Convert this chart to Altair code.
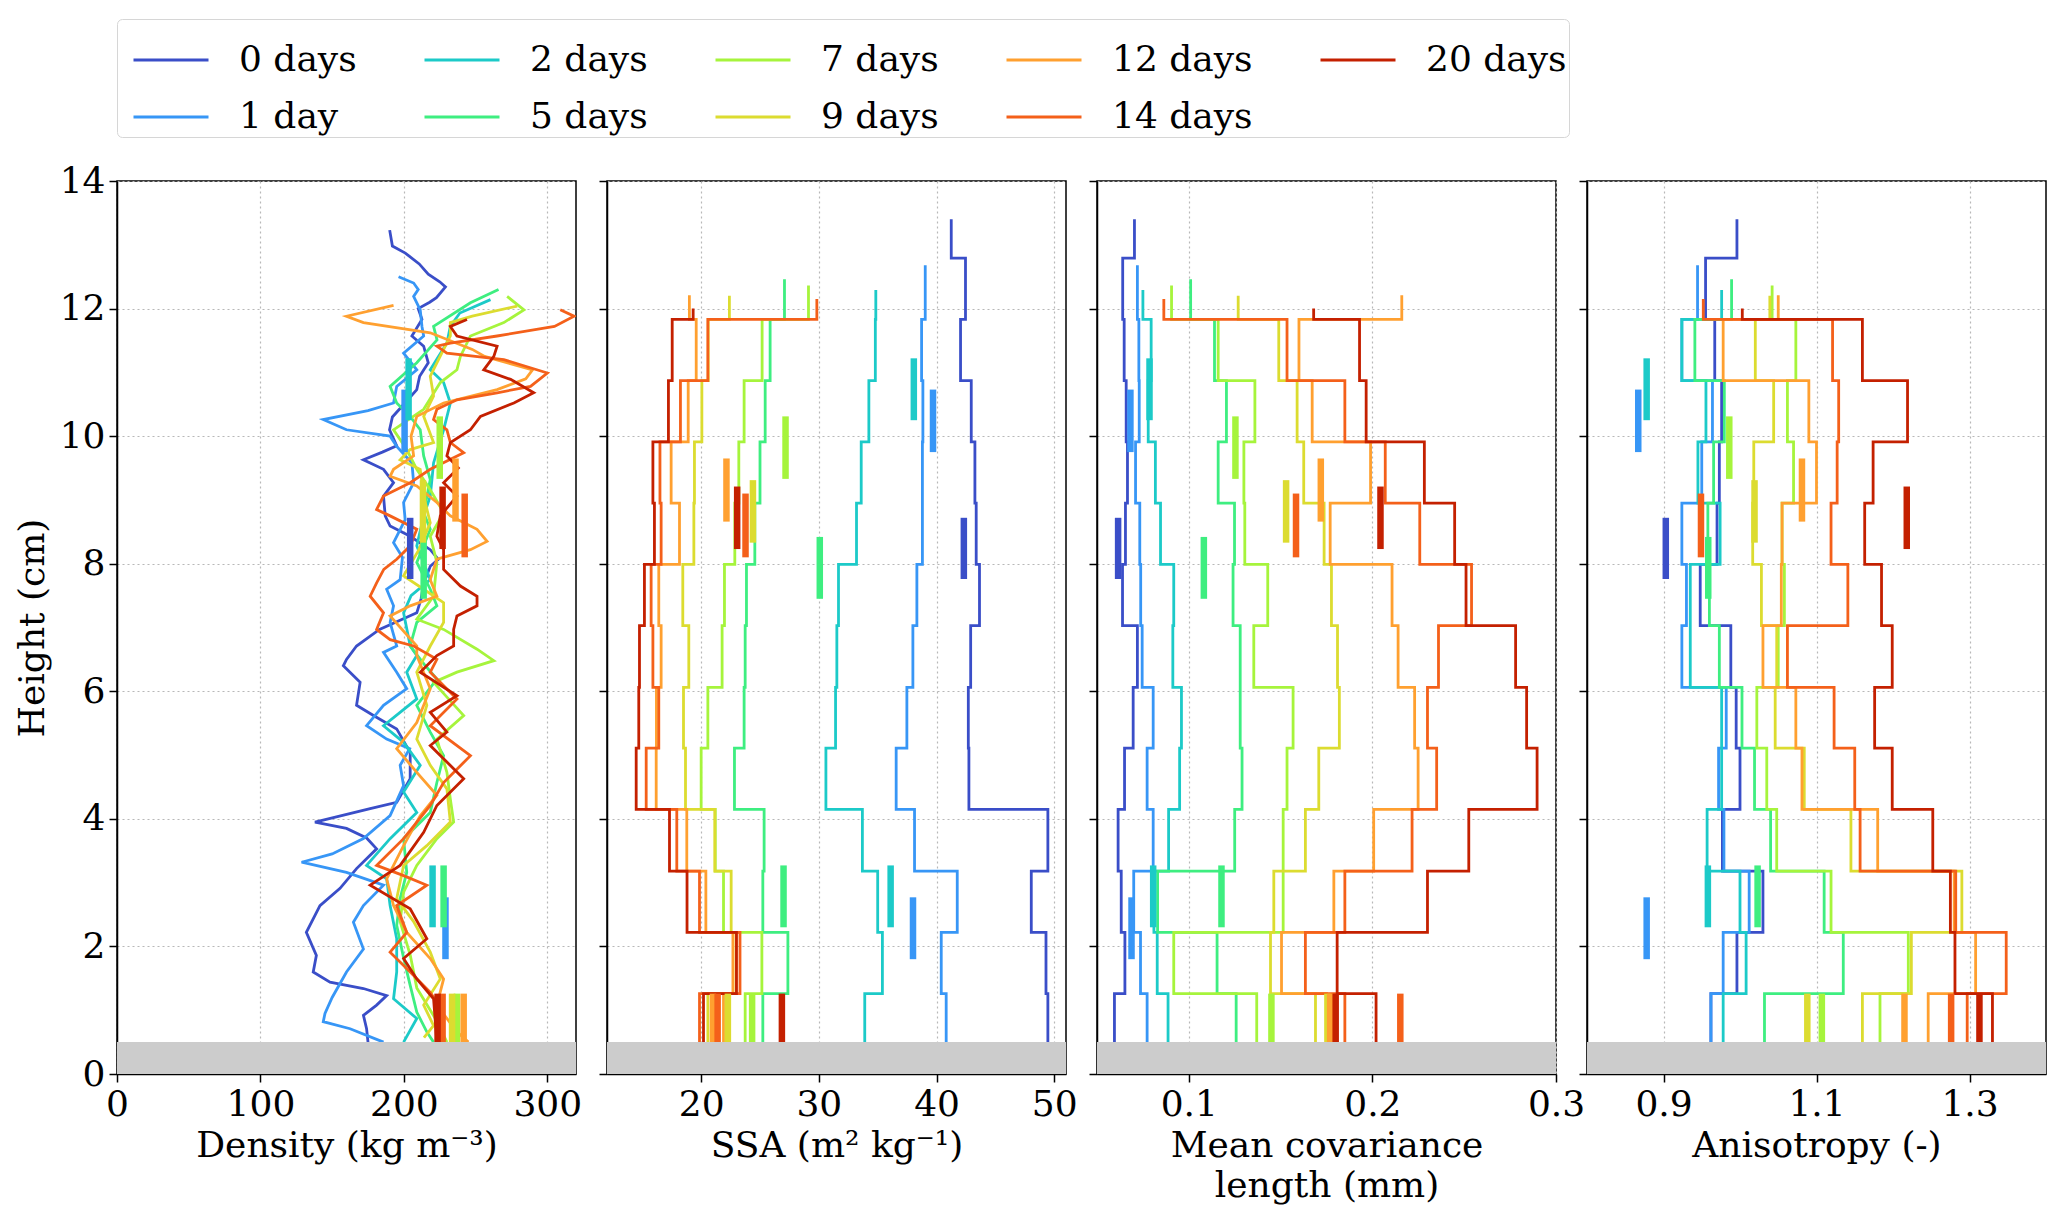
import altair as alt
import pandas as pd

DAYS = ["0 days", "1 day", "2 days", "5 days", "7 days", "9 days", "12 days", "14 days", "20 days"]
DAY_COLORS = ["#3a4ec8", "#3796f6", "#1ccac8", "#3eee80", "#a6f43c", "#dcdc30", "#ffa030", "#f4601a", "#c42000"]
# legend is filled row by row, so this order gives the two-row column layout
LEGEND_ORDER = ["0 days", "2 days", "7 days", "12 days", "20 days", "1 day", "5 days", "9 days", "14 days"]

# layer bottoms (cm); the last layer of each profile ends at the snow top
LAYER_EDGES = [0.5, 1.26, 2.22, 3.18, 4.15, 5.11, 6.06, 7.03, 7.99, 8.95, 9.91, 10.87, 11.83, 12.79]
SNOW_TOP = {
    "0 days": 13.40, "1 day": 12.68, "2 days": 12.29, "5 days": 12.46, "7 days": 12.36,
    "9 days": 12.20, "12 days": 12.21, "14 days": 12.15, "20 days": 12.00,
}

# layer values, bottom to top
SSA = {
    "0 days": [49.46, 49.3, 48.05, 49.46, 42.75, 42.7, 42.9, 43.65, 43.37, 43.26, 42.95, 42.04, 42.46, 41.25],
    "1 day": [40.82, 40.4, 41.76, 38.13, 36.57, 37.48, 37.99, 38.33, 38.8, 38.8, 38.84, 38.73, 39.04],
    "2 days": [33.9, 35.4, 35.0, 33.7, 30.6, 31.42, 31.53, 31.67, 33.2, 33.6, 34.25, 34.8, 34.84],
    "5 days": [25.24, 27.37, 25.24, 25.35, 22.83, 23.65, 23.74, 23.85, 24.56, 25.0, 25.44, 25.86, 27.08],
    "7 days": [23.74, 25.16, 21.9, 21.2, 20.0, 20.57, 21.78, 21.98, 22.86, 23.2, 23.65, 25.18, 29.12],
    "9 days": [20.57, 22.97, 22.55, 21.16, 18.67, 18.5, 18.95, 18.44, 19.38, 19.43, 20.06, 20.6, 22.4],
    "12 days": [21.9, 22.7, 20.4, 18.78, 16.18, 16.2, 16.6, 16.4, 18.16, 17.45, 18.9, 19.58, 19.0],
    "14 days": [19.86, 23.3, 19.86, 17.93, 15.33, 16.4, 15.9, 15.75, 16.6, 16.5, 18.24, 20.57, 29.83],
    "20 days": [20.2, 23.0, 18.8, 17.31, 14.48, 14.7, 14.76, 15.18, 16.03, 15.9, 17.22, 17.54, 19.32],
}

COV_LENGTH = {
    "0 days": [0.0595, 0.0652, 0.0632, 0.0615, 0.065, 0.0697, 0.072, 0.0639, 0.0655, 0.0666, 0.0659, 0.0648, 0.064, 0.0704],
    "1 day": [0.0773, 0.0737, 0.070, 0.0806, 0.0773, 0.0806, 0.0746, 0.0738, 0.0733, 0.071, 0.073, 0.0728, 0.072],
    "2 days": [0.0887, 0.0828, 0.081, 0.089, 0.095, 0.096, 0.0913, 0.0918, 0.0846, 0.0818, 0.0779, 0.0795, 0.075],
    "5 days": [0.1258, 0.1154, 0.083, 0.125, 0.129, 0.128, 0.128, 0.1241, 0.1249, 0.116, 0.1205, 0.114, 0.101],
    "7 days": [0.137, 0.0918, 0.1514, 0.1514, 0.1535, 0.1568, 0.1354, 0.143, 0.1305, 0.130, 0.136, 0.116, 0.0906],
    "9 days": [0.169, 0.1445, 0.1463, 0.1635, 0.1708, 0.182, 0.181, 0.1777, 0.1737, 0.1626, 0.159, 0.149, 0.1269],
    "12 days": [0.175, 0.1505, 0.179, 0.2007, 0.2249, 0.223, 0.214, 0.2107, 0.177, 0.199, 0.1672, 0.16, 0.216],
    "14 days": [0.185, 0.1635, 0.185, 0.2216, 0.235, 0.230, 0.236, 0.254, 0.2258, 0.207, 0.185, 0.1535, 0.0864],
    "20 days": [0.202, 0.1808, 0.230, 0.2525, 0.2897, 0.284, 0.278, 0.251, 0.2448, 0.2283, 0.1966, 0.193, 0.168],
}

ANISOTROPY = {
    "0 days": [0.962, 0.996, 1.03, 0.977, 1.0, 0.995, 0.988, 0.948, 0.97, 0.973, 0.976, 0.967, 0.955, 0.996],
    "1 day": [0.962, 0.978, 1.012, 0.979, 0.972, 0.982, 0.924, 0.93, 0.924, 0.95, 0.964, 0.924, 0.9445],
    "2 days": [0.978, 1.008, 1.0, 0.957, 0.976, 0.976, 0.935, 0.935, 0.974, 0.945, 0.9555, 0.924, 0.976],
    "5 days": [1.032, 1.135, 1.11, 1.04, 1.019, 1.0026, 0.973, 0.96, 0.958, 0.9655, 0.9795, 0.941, 0.989],
    "7 days": [1.183, 1.22, 1.119, 1.048, 1.035, 1.022, 1.05, 1.058, 1.055, 1.07, 1.062, 1.073, 1.042],
    "9 days": [1.16, 1.224, 1.29, 1.145, 1.084, 1.046, 1.048, 1.028, 1.0166, 1.018, 1.044, 1.02, 1.039],
    "12 days": [1.246, 1.308, 1.28, 1.18, 1.081, 1.073, 1.03, 1.054, 1.055, 1.1, 1.09, 0.978, 1.05],
    "14 days": [1.297, 1.348, 1.282, 1.157, 1.15, 1.123, 1.062, 1.141, 1.119, 1.127, 1.129, 1.121, 0.952],
    "20 days": [1.33, 1.281, 1.275, 1.252, 1.199, 1.176, 1.199, 1.185, 1.163, 1.174, 1.219, 1.16, 1.003],
}

# density profiles: heights (cm) and densities (kg m-3), top to bottom
DENSITY_HEIGHT = {
    "0 days": [13.23, 12.98, 12.87, 12.7, 12.54, 12.42, 12.34, 12.17, 12.1, 12.0, 11.83, 11.57, 11.41, 11.15, 10.94,
               10.73, 10.5, 10.3, 10.1, 9.85, 9.75, 9.63, 9.48, 9.27, 9.06, 8.75, 8.59, 8.43, 8.22, 8.07, 7.96, 7.7,
               7.45, 7.23, 6.97, 6.71, 6.5, 6.4, 6.14, 5.78, 5.62, 5.41, 5.04, 4.63, 4.26, 4.16, 3.95, 3.85, 3.7, 3.53,
               3.22, 2.91, 2.64, 2.22, 1.86, 1.6, 1.44, 1.34, 1.23, 1.08, 0.92, 0.71, 0.5],
    "1 day": [12.5, 12.4, 12.3, 12.19, 11.98, 11.72, 11.57, 11.3, 11.04, 10.78, 10.52, 10.4, 10.26, 10.1, 10.0, 9.84,
              9.58, 9.27, 8.96, 8.69, 8.33, 8.1, 7.75, 7.6, 7.34, 7.08, 6.71, 6.61, 6.3, 6.04, 5.78, 5.46, 5.25, 5.1,
              4.84, 4.52, 4.05, 3.69, 3.45, 3.32, 3.16, 2.96, 2.64, 2.38, 1.96, 1.6, 1.2, 0.95, 0.82, 0.71, 0.5],
    "2 days": [12.14, 11.93, 11.72, 11.46, 11.04, 10.84, 10.52, 10.1, 9.58, 9.06, 8.75, 8.28, 7.75, 7.5, 7.23, 6.71,
               6.56, 6.3, 5.88, 5.46, 5.2, 4.84, 4.42, 4.1, 3.69, 3.27, 3.06, 2.64, 2.12, 1.6, 1.18, 0.87, 0.5],
    "5 days": [12.3, 12.09, 11.72, 11.51, 11.15, 10.78, 10.52, 10.31, 10.1, 9.69, 9.32, 8.8, 8.54, 8.02, 7.6, 7.34,
               7.08, 6.71, 6.4, 6.19, 5.78, 5.36, 4.99, 4.57, 4.1, 3.69, 3.16, 2.75, 2.33, 1.82, 1.39, 0.97, 0.66, 0.5],
    "7 days": [12.19, 11.98, 11.78, 11.57, 11.25, 11.04, 10.84, 10.42, 10.1, 9.79, 9.48, 9.16, 8.8, 8.43, 8.02, 7.49,
               7.13, 6.97, 6.66, 6.48, 6.3, 6.14, 5.62, 5.25, 4.73, 4.31, 3.95, 3.69, 3.27, 2.85, 2.39, 1.87, 1.35,
               0.83, 0.5],
    "9 days": [12.04, 11.88, 11.78, 11.57, 10.94, 10.63, 10.31, 9.9, 9.79, 9.63, 9.48, 9.06, 8.64, 8.2, 7.81, 7.6,
               7.39, 7.08, 6.71, 6.3, 5.78, 5.25, 4.84, 4.47, 3.95, 3.58, 3.27, 2.75, 2.39, 1.91, 1.49, 1.08, 0.76,
               0.57],
    "12 days": [12.05, 11.88, 11.78, 11.62, 11.36, 11.25, 11.04, 10.9, 10.73, 10.52, 10.31, 10.0, 9.69, 9.48, 9.37,
                9.22, 8.96, 8.75, 8.54, 8.35, 8.22, 8.07, 7.75, 7.49, 7.34, 7.18, 6.71, 6.56, 6.04, 5.51, 5.1, 4.73,
                4.37, 4.05, 3.58, 3.06, 2.64, 2.22, 1.81, 1.49, 1.08, 0.66, 0.5],
    "14 days": [11.98, 11.88, 11.72, 11.57, 11.46, 11.41, 11.3, 11.2, 10.99, 10.78, 10.68, 10.57, 10.42, 10.26, 10.1,
                9.9, 9.74, 9.48, 9.27, 9.06, 8.85, 8.75, 8.54, 8.28, 8.07, 7.91, 7.7, 7.49, 7.23, 6.97, 6.81, 6.71,
                6.5, 6.3, 5.88, 5.46, 4.99, 4.57, 4.21, 3.69, 3.27, 3.11, 2.96, 2.64, 2.22, 1.91, 1.6, 1.28, 0.97,
                0.5],
    "20 days": [11.83, 11.72, 11.57, 11.41, 11.25, 11.04, 10.89, 10.68, 10.52, 10.31, 10.1, 9.9, 9.69, 9.5, 9.27,
                9.06, 8.75, 8.43, 8.22, 7.91, 7.65, 7.49, 7.34, 7.18, 6.97, 6.71, 6.56, 6.3, 5.93, 5.67, 5.36, 5.15,
                4.63, 4.21, 3.79, 3.27, 2.96, 2.59, 2.12, 1.81, 1.49, 1.18, 0.5],
}
DENSITY = {
    "0 days": [190.1, 192, 201, 210.7, 217, 225, 229, 222.7, 218, 210, 212.6, 205.6, 213.8, 217, 211, 209, 200, 192,
               190, 195, 185, 171.8, 185.8, 192.8, 185.8, 187, 190.4, 204.4, 218.4, 224, 218.4, 214, 212, 209, 183,
               167, 160, 157.8, 169.5, 167, 178.8, 195, 204.4, 204.4, 195, 176.5, 138, 160, 174, 181, 167, 155.5,
               141.5, 132, 139, 136.8, 148.5, 171.8, 188, 181, 171.8, 174, 175],
    "1 day": [196.3, 206.8, 210, 206.8, 211.4, 212.6, 213.8, 199.8, 209, 195, 192.8, 175, 143.8, 160, 190.4, 195,
              205.6, 206.8, 199.8, 200.9, 192.8, 199, 197.4, 188, 192.8, 190.4, 195, 185.8, 195, 202, 185.8, 174, 188,
              204, 197.4, 199.8, 190.4, 171.8, 150, 128.7, 160, 185.8, 171.8, 164.8, 171.8, 160, 150, 145, 143.8,
              162.5, 185.8],
    "2 days": [260.4, 239, 232.4, 230, 218.4, 227.7, 232.4, 227.7, 220.7, 218.4, 213.8, 209, 218.4, 205, 199.8, 204.4,
               209, 202, 209, 185.8, 199.8, 211.4, 199.8, 209, 190.4, 174, 188, 190.4, 195, 195, 192.8, 209, 199.8],
    "5 days": [266, 246.4, 220.7, 223.1, 209, 190.4, 195, 204.4, 211.4, 213.8, 218.4, 213.8, 218.4, 209, 218.4, 223,
               209, 204.4, 215, 223, 209, 218.4, 227.7, 223, 218.4, 199.8, 202, 197.4, 195, 199.8, 204.4, 209, 216,
               220.7],
    "7 days": [272, 283.7, 269.7, 246.4, 239.4, 237, 225.4, 213.8, 192.8, 202, 209, 218.4, 227.7, 218.4, 223, 220.7,
               209, 227.7, 251, 262.7, 237, 220.7, 241.7, 223, 230, 232.4, 234.7, 223, 209, 199.8, 197.4, 204.4, 209,
               223, 230],
    "9 days": [279, 247.7, 232.4, 232.4, 218.4, 220.7, 213.8, 220.7, 204.4, 197.4, 211.4, 213.8, 218.4, 210, 199.8,
               213.8, 227.7, 227.7, 218.4, 209, 216, 209, 218.4, 230, 232.4, 216, 199.8, 195, 206.8, 218.4, 225.4,
               213.8, 220.7, 214],
    "12 days": [192.8, 160, 171.8, 218.4, 247.7, 256.3, 289.7, 285, 265, 227.7, 209, 205, 206.8, 192.8, 190.4, 209,
                223, 232.4, 251, 258, 246.4, 223, 218.4, 223, 204.4, 190.4, 209, 209, 218.4, 209, 195, 209, 223,
                211.4, 199.8, 188, 192.8, 202, 218.4, 227.7, 223, 237, 245],
    "14 days": [309, 318.6, 305, 265, 232.4, 223, 230, 269.7, 300, 288.3, 265, 237, 223, 220.7, 230, 232.4, 241.7,
                218.4, 204.4, 185.8, 181, 190.4, 209, 204.4, 195, 186, 181, 176.5, 185.8, 181, 190.4, 206.8, 223,
                218.4, 237, 218.4, 246.4, 227.7, 218.4, 199.8, 181, 199.8, 216, 195, 202, 190.4, 204.4, 218.4, 227.7,
                227.7],
    "20 days": [244, 232.4, 237, 265, 262.7, 255.7, 274.4, 290.5, 276.7, 253.4, 246.4, 232.4, 230, 238, 227.7, 237,
                225.4, 223, 227.7, 227.7, 239.4, 251, 251, 237, 234.7, 234.7, 223, 211.4, 237, 218.4, 230, 218.4,
                241.7, 223, 213.8, 197.4, 176.5, 204.4, 216, 199.8, 209, 220.7, 223],
}

# thick bars: day, bottom and top height (cm), value in each panel
MARK_DAY = ["0 days", "1 day", "1 day", "2 days", "2 days", "5 days", "5 days", "7 days", "7 days",
            "9 days", "9 days", "12 days", "12 days", "14 days", "14 days", "20 days", "20 days"]
MARK_LO = [7.76, 9.75, 1.8, 10.25, 2.3, 7.45, 2.3, 9.33, 0.5, 8.33, 0.5, 8.66, 0.5, 8.1, 0.5, 8.23, 0.5]
MARK_HI = [8.72, 10.73, 2.77, 11.22, 3.27, 8.42, 3.27, 10.31, 1.26, 9.31, 1.26, 9.65, 1.26, 9.1, 1.26, 9.21, 1.26]
MARK_DENSITY = [204.4, 200.5, 229, 203.3, 220, 213.8, 227.7, 225, 237, 213.3, 233.6, 236, 241.7, 242.4, 227, 227, 223.5]
MARK_SSA = [42.32, 39.7, 38.0, 38.07, 36.1, 30.08, 27.0, 27.17, 24.33, 24.4, 22.27, 22.15, 21.0, 23.77, 21.4, 23.06, 26.86]
MARK_COV = [0.0615, 0.0682, 0.0688, 0.0786, 0.0806, 0.1082, 0.1178, 0.1254, 0.145, 0.153, 0.1755, 0.1719, 0.177,
            0.1584, 0.2152, 0.2044, 0.18]
MARK_ANISO = [0.903, 0.867, 0.878, 0.878, 0.958, 0.9585, 1.023, 0.986, 1.107, 1.019, 1.088, 1.081, 1.215, 0.949,
              1.276, 1.218, 1.313]

GROUND = [0.0, 0.5]

PANEL_WIDTH = 459
PANEL_HEIGHT = 893
FONT = "DejaVu Serif"
FONT_SIZE = 36


def step_profile(values: dict[str, list[float]]) -> pd.DataFrame:
    rows = []
    for day, layer_values in values.items():
        edges = LAYER_EDGES[: len(layer_values)] + [SNOW_TOP[day]]
        for index, value in enumerate(layer_values):
            rows.append({"day": day, "value": value, "height": edges[index], "order": 2 * index})
            rows.append({"day": day, "value": value, "height": edges[index + 1], "order": 2 * index + 1})
    return pd.DataFrame(rows)


def density_profile() -> pd.DataFrame:
    frames = []
    for day in DAYS:
        frames.append(
            pd.DataFrame(
                {
                    "day": day,
                    "value": DENSITY[day],
                    "height": DENSITY_HEIGHT[day],
                    "order": range(len(DENSITY[day])),
                }
            )
        )
    return pd.concat(frames, ignore_index=True)


def markers(values: list[float]) -> pd.DataFrame:
    return pd.DataFrame({"day": MARK_DAY, "value": values, "lo": MARK_LO, "hi": MARK_HI})


COLOR_RANGE = [DAY_COLORS[DAYS.index(day)] for day in LEGEND_ORDER]
LEGEND = alt.Legend(
    title=None,
    orient="top",
    direction="horizontal",
    columns=5,
    symbolType="stroke",
    symbolSize=5625,
    symbolStrokeWidth=3,
    symbolOffset=13,
    labelFont=FONT,
    labelFontSize=FONT_SIZE,
    labelOffset=29,
    columnPadding=53,
    rowPadding=0,
    padding=2,
    strokeColor="#d6d6d6",
    fillColor="white",
    cornerRadius=5,
    offset=25,
)
COLOR = alt.Color("day:N", scale=alt.Scale(domain=LEGEND_ORDER, range=COLOR_RANGE), legend=LEGEND)


def create_panel(
    lines: pd.DataFrame,
    bars: pd.DataFrame,
    x_title: str | list[str],
    x_domain: list[float],
    x_values: list[float],
    x_format: str,
    first: bool,
) -> alt.LayerChart:
    x_scale = alt.Scale(domain=x_domain, nice=False, zero=False)
    x_axis = alt.Axis(
        title=x_title, values=x_values, format=x_format, titlePadding=6, labelPadding=5, labelFlush=False
    )
    y_scale = alt.Scale(domain=[0, 14], nice=False)
    if first:
        y_axis = alt.Axis(title="Height (cm)", values=list(range(0, 15, 2)), format="d", titlePadding=8, labelPadding=4)
    else:
        y_axis = alt.Axis(title=None, values=list(range(0, 15, 2)), labels=False)

    profile = (
        alt.Chart(lines)
        .mark_line(strokeWidth=2.8, clip=True)
        .encode(
            x=alt.X("value:Q", scale=x_scale, axis=x_axis),
            y=alt.Y("height:Q", scale=y_scale, axis=y_axis),
            color=COLOR,
            detail="day:N",
            order="order:Q",
        )
    )
    thick_bars = (
        alt.Chart(bars)
        .mark_rule(strokeWidth=6.5, clip=True)
        .encode(x="value:Q", y="lo:Q", y2="hi:Q", color=COLOR)
    )
    ground = (
        alt.Chart(pd.DataFrame({"lo": [GROUND[0]], "hi": [GROUND[1]]}))
        .mark_rect(color="#cccccc", opacity=1)
        .encode(y="lo:Q", y2="hi:Q")
    )
    return alt.layer(profile, thick_bars, ground).properties(width=PANEL_WIDTH, height=PANEL_HEIGHT)


density_panel = create_panel(
    density_profile(), markers(MARK_DENSITY), "Density (kg m⁻³)", [0, 320], [0, 100, 200, 300], "d", True
)
ssa_panel = create_panel(
    step_profile(SSA), markers(MARK_SSA), "SSA (m² kg⁻¹)", [12, 51], [20, 30, 40, 50], "d", False
)
cov_panel = create_panel(
    step_profile(COV_LENGTH),
    markers(MARK_COV),
    ["Mean covariance", "length (mm)"],
    [0.05, 0.3],
    [0.1, 0.2, 0.3],
    ".1f",
    False,
)
aniso_panel = create_panel(
    step_profile(ANISOTROPY), markers(MARK_ANISO), "Anisotropy (-)", [0.8, 1.4], [0.9, 1.1, 1.3], ".1f", False
)

chart = (
    alt.hconcat(density_panel, ssa_panel, cov_panel, aniso_panel, spacing=31, bounds="flush")
    .resolve_scale(x="independent", color="shared")
    .properties(padding={"left": 5, "top": 10, "right": 5, "bottom": 2})
    .configure(font=FONT)
    .configure_axis(
        labelFont=FONT,
        titleFont=FONT,
        labelFontSize=FONT_SIZE,
        titleFontSize=FONT_SIZE,
        titleFontWeight="normal",
        titleLineHeight=40,
        labelColor="black",
        titleColor="black",
        domainColor="black",
        domainWidth=1.5,
        tickColor="black",
        tickSize=8,
        tickWidth=1.5,
        grid=True,
        gridColor="#b8b8b8",
        gridDash=[2, 3],
        gridWidth=1.2,
    )
    .configure_legend(labelFont=FONT)
    .configure_view(stroke="black", strokeWidth=1.5)
)

chart.save("out.html", embed_options={"renderer": "svg", "actions": False})
